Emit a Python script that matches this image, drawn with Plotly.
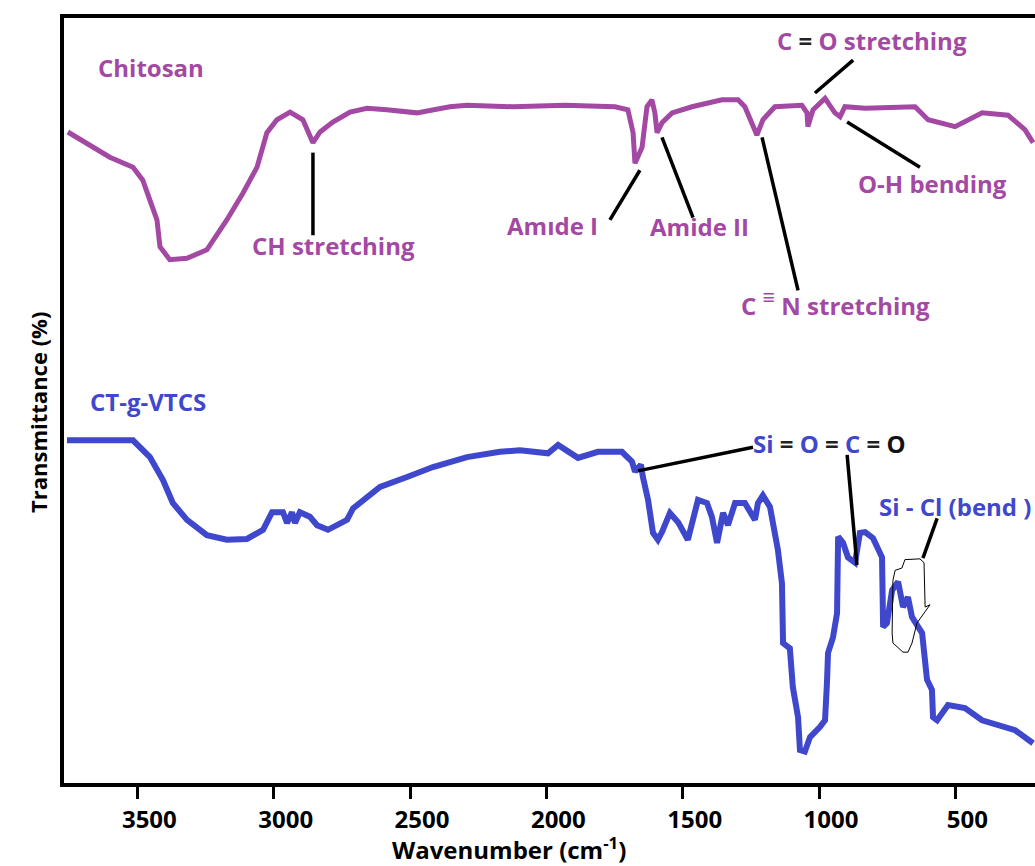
import plotly.graph_objects as go

# FTIR spectra: wavenumber (cm-1) and relative transmittance (arbitrary, offset traces)
chitosan_wn = [3755, 3674, 3601, 3516, 3480, 3454, 3428, 3417, 3381, 3318, 3245, 3172, 3113, 3061,
               3025, 2988, 2940, 2893, 2856, 2830, 2783, 2720, 2658, 2585, 2475, 2354, 2291, 2123,
               1932, 1748, 1701, 1682, 1675, 1649, 1631, 1613, 1602, 1594, 1576, 1539, 1466, 1356,
               1297, 1272, 1246, 1228, 1206, 1162, 1063, 1044, 1041, 1022, 978, 942, 923, 905, 831,
               648, 600, 501, 402, 307, 245, 215]
chitosan_t = [85.1, 83.4, 81.8, 80.5, 78.8, 76.2, 73.6, 70.1, 68.4, 68.6, 69.7, 73.6, 77.1, 80.5,
              85.0, 86.7, 87.7, 86.7, 83.7, 85.1, 86.4, 87.7, 88.2, 88.0, 87.6, 88.4, 88.6, 88.4,
              88.6, 88.4, 88.0, 85.0, 81.0, 83.1, 88.4, 89.3, 87.6, 85.0, 86.3, 87.6, 88.4, 89.3,
              89.3, 88.4, 86.3, 84.7, 86.7, 88.4, 88.6, 87.6, 85.8, 88.0, 89.5, 87.6, 87.1, 88.4, 88.2,
              88.4, 86.7, 85.8, 87.6, 87.3, 85.4, 83.7]

ctg_wn = [3758, 3516, 3454, 3406, 3370, 3318, 3245, 3172, 3098, 3039, 3006, 2966, 2951, 2933,
          2922, 2904, 2867, 2841, 2801, 2731, 2709, 2610, 2511, 2416, 2291, 2170, 2097, 1994,
          1957, 1884, 1811, 1723, 1686, 1675, 1653, 1646, 1627, 1609, 1591, 1576, 1547, 1517,
          1481, 1444, 1411, 1393, 1374, 1352, 1334, 1308, 1272, 1253, 1235, 1224, 1206, 1180,
          1162, 1151, 1136, 1132, 1107, 1096, 1077, 1070, 1052, 1033, 997, 978, 971, 967, 949,
          934, 930, 912, 894, 868, 850, 831, 802, 769, 765, 751, 732, 710, 692, 674, 659, 622,
          604, 586, 582, 567, 527, 465, 402, 281, 215]
ctg_t = [44.8, 44.8, 42.6, 39.6, 36.6, 34.4, 32.4, 31.8, 31.9, 33.1, 35.4, 35.4, 34.0, 35.4,
         34.0, 35.4, 34.8, 33.7, 33.1, 34.4, 35.9, 38.7, 40.0, 41.3, 42.6, 43.3, 43.5, 43.1,
         44.2, 42.5, 43.3, 43.3, 42.0, 40.7, 41.6, 40.0, 37.0, 32.7, 31.8, 32.8, 35.3, 34.1,
         31.8, 37.0, 36.6, 34.8, 31.4, 35.3, 33.7, 36.6, 36.6, 35.4, 34.4, 36.6, 37.6, 36.1,
         33.1, 30.5, 26.1, 18.3, 17.6, 12.5, 8.6, 4.3, 4.1, 6.0, 7.3, 8.2, 13.1, 17.0, 19.0,
         22.2, 32.2, 31.4, 29.5, 28.8, 32.7, 32.8, 32.0, 29.5, 20.4, 20.9, 25.2, 26.3, 23.0, 24.3,
         21.7, 19.6, 13.5, 12.2, 8.6, 8.2, 10.2, 9.8, 8.2, 6.9, 5.2]

# Hand-drawn outline around the Si-Cl bending region
sicl_loop_wn = [729, 721, 696, 685, 630, 615, 611, 593, 611, 641, 659, 674, 692, 729, 732, 729]
sicl_loop_t = [26.5, 27.8, 28.1, 29.2, 29.3, 28.8, 23.0, 23.3, 22.4, 20.9, 18.3, 17.1, 17.1, 18.3, 19.6, 26.5]

tick_vals = [3500, 3000, 2500, 2000, 1500, 1000, 500]
tick_text = ["3500", "3000", "2500", "2000", "1500", "1000", "500"]

PURPLE = "#A349A4"
BLUE = "#3F48CC"
FONT = "Open Sans"
LABEL_SIZE = 24

# Band labels: (text, x, y, colour)
band_labels = [
    ("<b>Chitosan</b>", 3450, 93.5, PURPLE),
    ("<b>CH stretching</b>", 2781, 70.3, PURPLE),
    ("<b>Amıde I</b>", 1979, 72.9, PURPLE),
    ("<b>Amide II</b>", 1437, 72.7, PURPLE),
    ("<b>C <sup><span style='font-size:22px'>≡</span></sup> N stretching</b>", 941, 62.9, PURPLE),
    ("<b>C <span style='color:#222'>=</span> O stretching</b>", 804, 97.1, PURPLE),
    ("<b>O-H bending</b>", 584, 78.4, PURPLE),
    ("<b>CT-g-VTCS</b>", 3461, 49.9, BLUE),
    ("<b>Si <span style='color:#222'>=</span> O <span style='color:#222'>=</span> C "
     "<span style='color:#222'>=</span> <span style='color:#111'>O</span></b>", 963, 44.4, BLUE),
]

# Leader lines: (x0, y0, x1, y1)
leaders = [
    (2856, 82.4, 2856, 71.6),
    (1657, 80.1, 1767, 73.6),
    (1576, 84.4, 1462, 73.9),
    (1209, 84.4, 1077, 64.4),
    (1015, 90.2, 875, 94.5),
    (897, 86.4, 630, 80.5),
    (1664, 40.8, 1242, 43.9),
    (897, 42.9, 861, 28.5),
    (567, 34.6, 619, 29.4),
]

fig = go.Figure()
fig.add_trace(go.Scatter(x=chitosan_wn, y=chitosan_t, mode="lines",
                         line=dict(color=PURPLE, width=5), name="Chitosan"))
fig.add_trace(go.Scatter(x=ctg_wn, y=ctg_t, mode="lines",
                         line=dict(color=BLUE, width=6), name="CT-g-VTCS"))
fig.add_trace(go.Scatter(x=sicl_loop_wn, y=sicl_loop_t, mode="lines",
                         line=dict(color="black", width=1), hoverinfo="skip"))

for x0, y0, x1, y1 in leaders:
    fig.add_shape(type="line", xref="x", yref="y", x0=x0, y0=y0, x1=x1, y1=y1,
                  line=dict(color="black", width=3.5))

for text, x, y, col in band_labels:
    fig.add_annotation(x=x, y=y, xref="x", yref="y", text=text, showarrow=False,
                       font=dict(family=FONT, size=LABEL_SIZE, color=col))

fig.add_annotation(x=787, y=36.1, xref="x", yref="y", xanchor="left",
                   text="<b>Si - Cl (bend )</b>", showarrow=False,
                   font=dict(family=FONT, size=LABEL_SIZE, color=BLUE))

# Axis titles
fig.add_annotation(x=0.458, y=-0.086, xref="paper", yref="paper", yanchor="middle",
                   text="<b>Wavenumber (cm<sup>-1</sup>)</b>", showarrow=False,
                   font=dict(family=FONT, size=24, color="black"))
fig.add_annotation(x=-0.0443, y=0.485, xref="paper", yref="paper", textangle=-90,
                   text="<b>Transmittance (%)</b>", showarrow=False,
                   font=dict(family=FONT, size=22, color="black"))

fig.update_xaxes(range=[3769, 208], tickvals=tick_vals, ticktext=tick_text,
                 ticks="outside", ticklen=12, tickwidth=3, tickcolor="black",
                 showline=True, linewidth=4, linecolor="black", mirror=True,
                 showgrid=False, zeroline=False, ticklabelshift=-12,
                 tickfont=dict(family=FONT, size=24, color="black", weight="bold"))
fig.update_yaxes(range=[0, 100], showline=True, linewidth=4, linecolor="black",
                 showticklabels=False, ticks="", showgrid=False, zeroline=False)

fig.update_layout(width=1035, height=866, margin=dict(l=64, r=0, t=18, b=83),
                  paper_bgcolor="white", plot_bgcolor="white", showlegend=False)

fig.write_html("out.html")
